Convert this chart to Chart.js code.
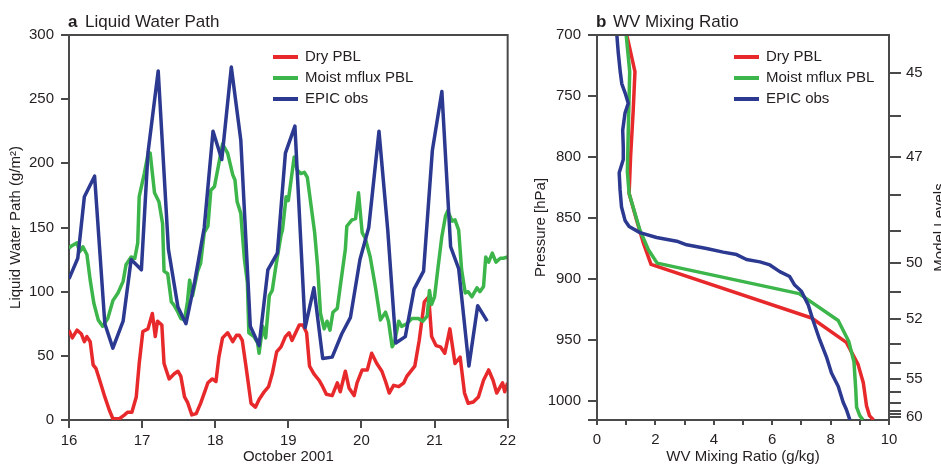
<!DOCTYPE html>
<html>
<head>
<meta charset="utf-8">
<script src="https://cdn.jsdelivr.net/npm/chart.js@4.4.1/dist/chart.umd.min.js"></script>
<style>
  body { margin: 0; background: #fff; }
  #wrap { position: relative; width: 941px; height: 466px; overflow: hidden; }
  #lwp { position: absolute; left: 0; top: 0; }
  #wv { position: absolute; left: 520px; top: 0; }
</style>
</head>
<body>
<div id="wrap">
  <canvas id="lwp" width="520" height="466"></canvas>
  <canvas id="wv" width="421" height="466"></canvas>
</div>
<script>
// panel a : liquid water path, x = day of October 2001
const dryDays = [16.00, 16.045, 16.11, 16.17, 16.21, 16.245, 16.29, 16.33, 16.37, 16.42, 16.49, 16.55, 16.60, 16.69, 16.76, 16.80, 16.86, 16.92, 16.96, 17.01,
  17.08, 17.14, 17.18, 17.21, 17.27, 17.30, 17.37, 17.44, 17.49, 17.53, 17.58, 17.62, 17.68, 17.74, 17.80, 17.85, 17.90, 17.96, 18.01, 18.05,
  18.10, 18.17, 18.24, 18.29, 18.33, 18.37, 18.42, 18.49, 18.55, 18.60, 18.67, 18.73, 18.78, 18.84, 18.90, 18.96, 19.01, 19.05, 19.10, 19.15,
  19.20, 19.25, 19.29, 19.35, 19.42, 19.47, 19.52, 19.60, 19.67, 19.71, 19.78, 19.83, 19.90, 19.94, 20.01, 20.08, 20.14, 20.21, 20.28, 20.33,
  20.38, 20.44, 20.51, 20.58, 20.62, 20.73, 20.79, 20.86, 20.92, 20.96, 21.02, 21.08, 21.14, 21.21, 21.28, 21.35, 21.41, 21.46, 21.53, 21.60,
  21.67, 21.74, 21.80, 21.85, 21.90, 21.93, 21.96, 22.00];
const dryLwp = [70, 64, 70, 67, 61, 65, 61, 43, 40, 31, 18, 8, 1, 1, 4, 6, 6, 18, 44, 69,
  71, 83, 65, 77, 74, 44, 32, 36, 38, 34, 18, 14, 4, 5, 13, 21, 29, 32, 30, 49,
  64, 68, 61, 66, 66, 62, 42, 13, 10, 16, 22, 26, 36, 53, 57, 65, 68, 62, 68, 74,
  74, 68, 42, 36, 31, 26, 20, 19, 29, 22, 38, 25, 19, 29, 39, 39, 52, 44, 38, 30,
  21, 27, 26, 29, 34, 42, 62, 92, 96, 65, 58, 57, 52, 71, 44, 49, 21, 13, 14, 18,
  31, 39, 31, 21, 26, 29, 22, 29];

const moistDays = [16.00, 16.045, 16.11, 16.145, 16.19, 16.245, 16.29, 16.34, 16.40, 16.46, 16.53, 16.60, 16.67, 16.74, 16.78, 16.85, 16.90, 16.94, 16.96, 17.03,
  17.08, 17.11, 17.17, 17.23, 17.28, 17.30, 17.35, 17.40, 17.43, 17.49, 17.53, 17.58, 17.62, 17.65, 17.69, 17.76, 17.80, 17.85, 17.90, 17.94,
  17.99, 18.05, 18.10, 18.17, 18.24, 18.27, 18.30, 18.35, 18.37, 18.40, 18.44, 18.46, 18.53, 18.58, 18.60, 18.65, 18.69, 18.74, 18.78, 18.83,
  18.90, 18.92, 18.97, 19.00, 19.08, 19.12, 19.17, 19.22, 19.26, 19.33, 19.36, 19.40, 19.44, 19.49, 19.53, 19.57, 19.61, 19.67, 19.71, 19.78,
  19.80, 19.87, 19.92, 19.96, 20.01, 20.05, 20.12, 20.19, 20.26, 20.33, 20.37, 20.42, 20.45, 20.51, 20.55, 20.62, 20.69, 20.78, 20.84, 20.90,
  20.93, 20.96, 21.00, 21.05, 21.10, 21.15, 21.18, 21.24, 21.28, 21.33, 21.37, 21.42, 21.46, 21.51, 21.58, 21.62, 21.67, 21.70, 21.74, 21.79,
  21.84, 21.90, 21.94, 22.00];
const moistLwp = [134, 136, 138, 131, 135, 129, 109, 91, 78, 73, 79, 93, 99, 108, 121, 127, 126, 138, 174, 192,
  207, 208, 177, 170, 153, 116, 114, 92, 90, 84, 79, 78, 92, 109, 97, 116, 122, 146, 151, 179,
  182, 200, 215, 208, 191, 187, 170, 161, 146, 125, 107, 68, 65, 60, 52, 73, 64, 97, 101, 120,
  144, 148, 174, 171, 205, 195, 192, 193, 189, 159, 146, 120, 83, 71, 77, 70, 84, 87, 104, 133,
  151, 156, 157, 177, 146, 142, 127, 104, 78, 84, 77, 57, 60, 77, 73, 75, 79, 79, 77, 81,
  101, 90, 96, 120, 143, 159, 163, 155, 156, 148, 117, 99, 100, 96, 103, 100, 104, 127, 123, 130,
  123, 126, 126, 127];

const epicDays = [16.00, 16.12, 16.21, 16.35, 16.49, 16.60, 16.74, 16.85, 16.99, 17.08, 17.22, 17.36, 17.49, 17.60, 17.72, 17.85, 17.97, 18.09, 18.22, 18.35,
  18.48, 18.60, 18.72, 18.85, 18.96, 19.09, 19.23, 19.35, 19.47, 19.60, 19.73, 19.85, 19.98, 20.10, 20.24, 20.36, 20.47, 20.60, 20.72, 20.85,
  20.97, 21.10, 21.22, 21.33, 21.47, 21.59, 21.72];
const epicLwp = [110, 126, 174, 190, 75, 56, 77, 125, 117, 208, 272, 133, 88, 75, 108, 150, 225, 203, 275, 218,
  73, 58, 117, 130, 208, 229, 72, 103, 48, 49, 67, 80, 125, 150, 225, 148, 60, 65, 102, 116,
  210, 256, 135, 118, 42, 89, 77];

// panel b : water vapour mixing ratio (g/kg) against pressure (hPa)
const dryQ = [1.02, 1.30, 1.24, 1.15, 1.10, 1.36, 1.58, 1.85, 7.35, 8.54, 8.94, 9.12, 9.23, 9.33, 9.47];
const dryP = [700, 730, 762, 800, 830, 852, 870, 888, 932, 952, 970, 985, 1004, 1012, 1015.5];
const moistQ = [1.00, 1.12, 1.07, 1.04, 1.10, 1.47, 1.76, 2.06, 6.92, 8.26, 8.62, 8.80, 8.86, 8.89, 9.00, 9.11];
const moistP = [700, 730, 780, 812, 830, 860, 876, 887, 912, 934, 951, 968, 990, 1005, 1012, 1015.5];
const epicQ = [0.68, 0.73, 0.80, 0.85, 0.97, 1.07, 0.96, 0.88, 0.90, 0.90, 0.76, 0.79, 0.84, 0.96, 1.10, 1.47, 2.04, 2.73, 3.07, 3.75,
  4.32, 4.78, 5.12, 5.58, 5.92, 6.26, 6.60, 6.77, 7.00, 7.23, 7.40, 7.63, 7.86, 8.03, 8.26, 8.43, 8.54, 8.66];
const epicP = [700, 715, 731, 740, 748, 756, 764, 778, 792, 802, 813, 827, 841, 852, 857, 862, 866, 869, 872, 875,
  878, 880, 884, 886, 888.5, 894, 898, 905, 910, 921, 934, 950, 964, 977, 988, 1001, 1007, 1015.5];

// model levels on the right axis of panel b
const levelNumbers = [45, 46, 47, 48, 49, 50, 51, 52, 53, 54, 55, 56, 57, 58, 59, 60];
const levelPressures = [731, 766, 800, 831, 861, 887, 911, 933, 953, 969, 982, 993, 1002, 1008, 1011, 1013];
const labeledLevels = [45, 47, 50, 52, 55, 60];
const pressureTicks = [700, 750, 800, 850, 900, 950, 1000];
const pressureTop = 700;
const pressureBottom = 1015.6;

const seriesNames = ["Dry PBL", "Moist mflux PBL", "EPIC obs"];
const colRed = "#e8292b";
const colGreen = "#3cb54a";
const colBlue = "#2b3990";
const ink = "#231f20";
const axisCol = "#4a4a4a";
const fam = "'Liberation Sans', Arial, Helvetica, sans-serif";

Chart.defaults.font.family = fam;
Chart.defaults.font.size = 15;
Chart.defaults.color = ink;

function pairs(xs, ys) {
  return xs.map((x, i) => ({ x: x, y: ys[i] }));
}

function line(label, data, color, order) {
  return {
    label: label,
    data: data,
    borderColor: color,
    backgroundColor: color,
    borderWidth: 3.5,
    pointRadius: 0,
    tension: 0,
    showLine: true,
    fill: false,
    borderJoinStyle: "round",
    order: order,
  };
}

// frame, panel title, legend and side title
const decor = {
  id: "decor",
  afterDraw(chart, args, opts) {
    const ctx = chart.ctx;
    const a = chart.chartArea;
    ctx.save();
    ctx.strokeStyle = axisCol;
    ctx.lineWidth = 2;
    ctx.beginPath();
    ctx.moveTo(a.left, a.top);
    ctx.lineTo(a.right, a.top);
    ctx.lineTo(a.right, a.bottom);
    ctx.stroke();

    ctx.fillStyle = ink;
    ctx.textAlign = "left";
    ctx.textBaseline = "alphabetic";
    ctx.font = "bold 17px " + fam;
    ctx.fillText(opts.letter, a.left - 1, 27);
    ctx.font = "17px " + fam;
    ctx.fillText(opts.title, a.left + 16, 27);

    ctx.font = "15px " + fam;
    ctx.textBaseline = "middle";
    chart.data.datasets.forEach((ds, i) => {
      const y = opts.legendY + i * 21;
      ctx.strokeStyle = ds.borderColor;
      ctx.lineWidth = 4;
      ctx.beginPath();
      ctx.moveTo(opts.legendX, y);
      ctx.lineTo(opts.legendX + 25, y);
      ctx.stroke();
      ctx.fillText(ds.label, opts.legendX + 32, y);
    });

    if (opts.sideTitle) {
      ctx.translate(opts.sideX, (a.top + a.bottom) / 2);
      ctx.rotate(-Math.PI / 2);
      ctx.textAlign = "center";
      ctx.textBaseline = "alphabetic";
      ctx.fillText(opts.sideTitle, 0, 0);
    }
    ctx.restore();
  },
};

function axisStyle(tickLen) {
  return {
    grid: { drawOnChartArea: false, drawTicks: true, tickLength: tickLen, color: axisCol, lineWidth: 2 },
    border: { display: true, color: axisCol, width: 2 },
  };
}

new Chart(document.getElementById("lwp"), {
  type: "line",
  data: {
    datasets: [
      line(seriesNames[0], pairs(dryDays, dryLwp), colRed, 3),
      line(seriesNames[1], pairs(moistDays, moistLwp), colGreen, 2),
      line(seriesNames[2], pairs(epicDays, epicLwp), colBlue, 1),
    ],
  },
  options: {
    responsive: false,
    animation: false,
    layout: { padding: { top: 35, right: 11, left: 0, bottom: 0 } },
    plugins: {
      legend: { display: false },
      tooltip: { enabled: false },
      decor: { letter: "a", title: "Liquid Water Path", legendX: 273, legendY: 57 },
    },
    scales: {
      x: {
        type: "linear",
        min: 16,
        max: 22,
        ticks: { stepSize: 1, padding: 4, maxRotation: 0 },
        ...axisStyle(8),
        title: { display: true, text: "October 2001", padding: 0 },
        afterFit(s) { s.height = 46; },
      },
      y: {
        type: "linear",
        min: 0,
        max: 300,
        ticks: { stepSize: 50, padding: 7 },
        ...axisStyle(8),
        title: { display: true, text: "Liquid Water Path (g/m²)", padding: { top: 7, bottom: 0 } },
        afterFit(s) { s.width = 69; },
      },
    },
  },
  plugins: [decor],
});

new Chart(document.getElementById("wv"), {
  type: "scatter",
  data: {
    datasets: [
      line(seriesNames[0], pairs(dryQ, dryP), colRed, 3),
      line(seriesNames[1], pairs(moistQ, moistP), colGreen, 2),
      line(seriesNames[2], pairs(epicQ, epicP), colBlue, 1),
    ],
  },
  options: {
    responsive: false,
    animation: false,
    layout: { padding: { top: 35, right: 0, left: 0, bottom: 0 } },
    plugins: {
      legend: { display: false },
      tooltip: { enabled: false },
      decor: { letter: "b", title: "WV Mixing Ratio", legendX: 214, legendY: 57, sideTitle: "Model Levels", sideX: 424 },
    },
    scales: {
      x: {
        type: "linear",
        min: 0,
        max: 10,
        ticks: {
          stepSize: 1,
          padding: 6,
          maxRotation: 0,
          callback: (v) => (v % 2 === 0 ? String(v) : ""),
        },
        ...axisStyle(5),
        title: { display: true, text: "WV Mixing Ratio (g/kg)", padding: 0 },
        afterFit(s) { s.height = 46; },
      },
      y: {
        type: "linear",
        position: "left",
        reverse: true,
        min: pressureTop,
        max: pressureBottom,
        afterBuildTicks(s) {
          s.ticks = pressureTicks.concat([pressureBottom]).map((v) => ({ value: v }));
        },
        ticks: {
          padding: 7,
          autoSkip: false,
          callback: (v) => (pressureTicks.includes(v) ? String(v) : ""),
        },
        ...axisStyle(9),
        title: { display: true, text: "Pressure [hPa]", padding: { top: 12, bottom: 0 } },
        afterFit(s) { s.width = 77; },
      },
      lev: {
        type: "linear",
        position: "right",
        reverse: true,
        min: pressureTop,
        max: pressureBottom,
        afterBuildTicks(s) {
          s.ticks = levelPressures.map((v) => ({ value: v }));
        },
        ticks: {
          padding: 5,
          autoSkip: false,
          callback: (v, i) => (labeledLevels.includes(levelNumbers[i]) ? String(levelNumbers[i]) : ""),
        },
        ...axisStyle(12),
        afterFit(s) { s.width = 52; },
      },
    },
  },
  plugins: [decor],
});
</script>
</body>
</html>
